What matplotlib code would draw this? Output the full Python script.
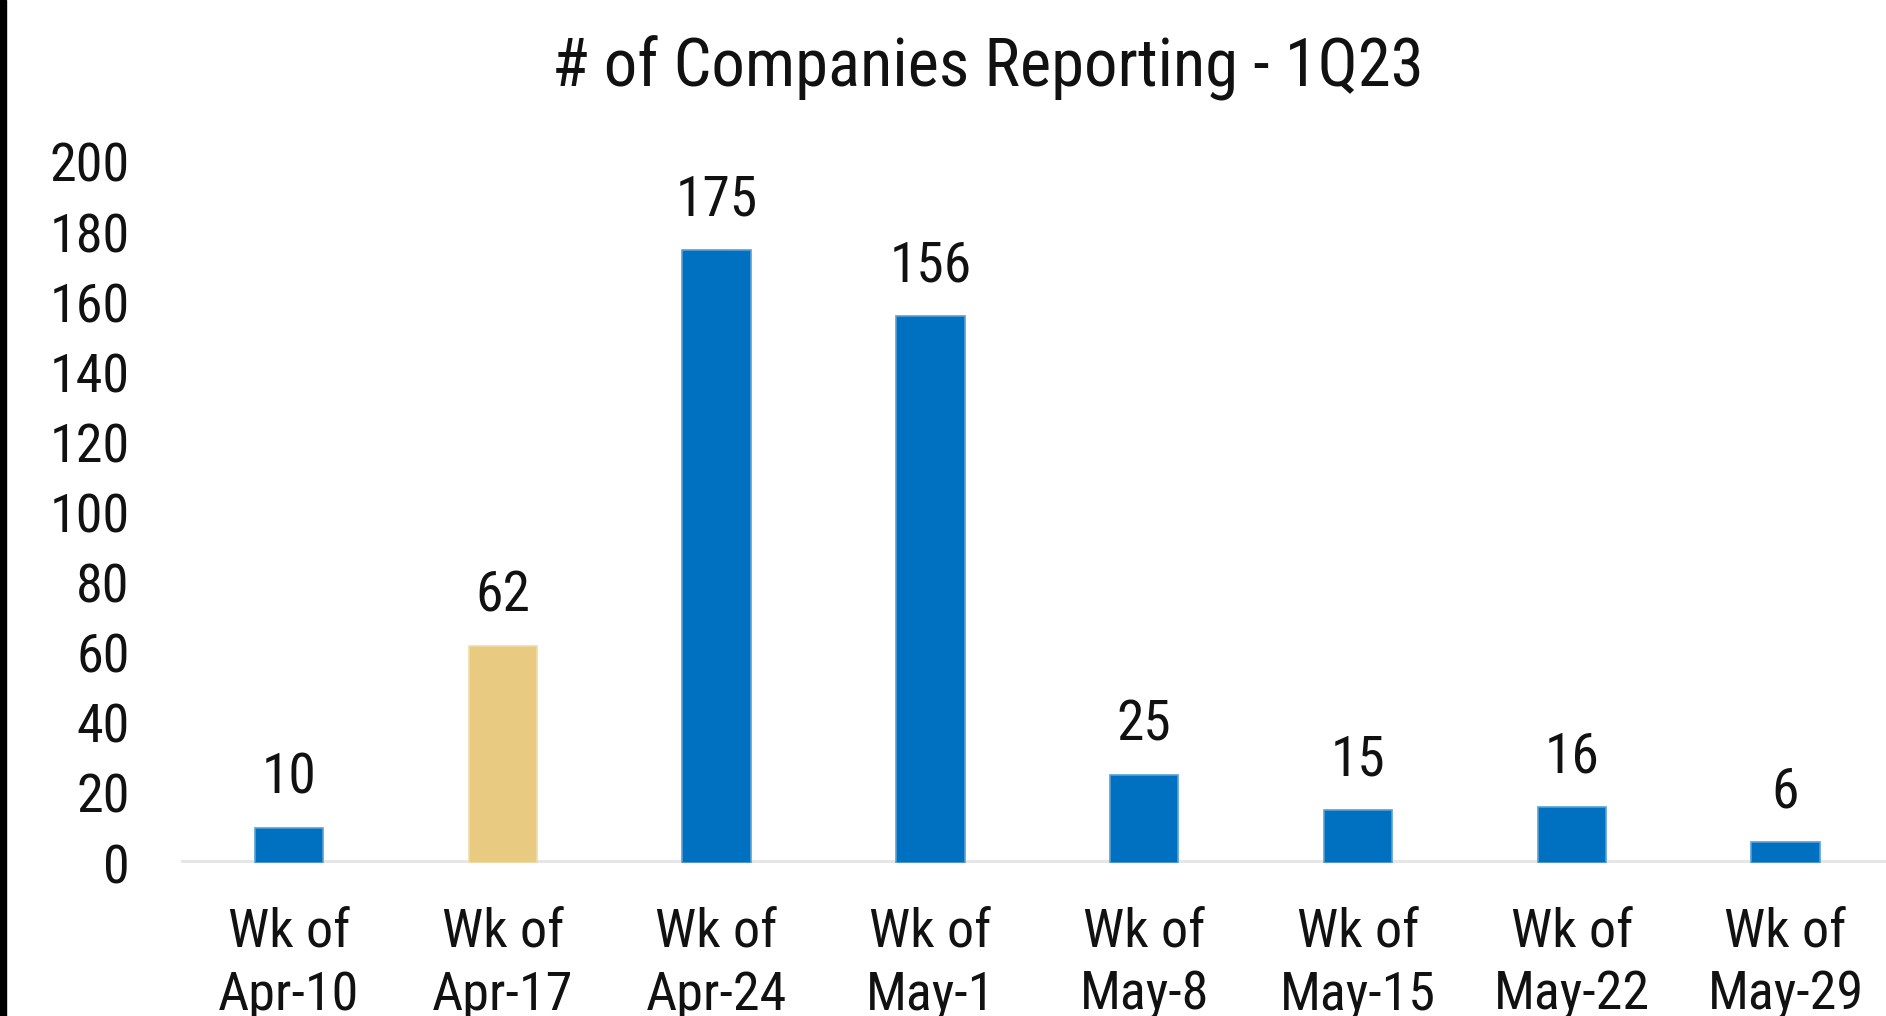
import matplotlib
matplotlib.use("Agg")
import matplotlib.pyplot as plt
from matplotlib import font_manager as fm
from matplotlib.patches import Rectangle

weeks = ['Wk of\nApr-10', 'Wk of\nApr-17', 'Wk of\nApr-24', 'Wk of\nMay-1',
         'Wk of\nMay-8', 'Wk of\nMay-15', 'Wk of\nMay-22', 'Wk of\nMay-29']
counts = [10, 62, 175, 156, 25, 15, 16, 6]
highlight = 'Wk of\nApr-17'
title = '# of Companies Reporting - 1Q23'

# narrow face if there is one, otherwise roboto
font = 'Roboto'
for name in ['Roboto Condensed', 'Liberation Sans Narrow']:
    try:
        fm.findfont(fm.FontProperties(family=name), fallback_to_default=False)
        font = name
        break
    except Exception:
        pass
plt.rcParams['font.family'] = [font, 'DejaVu Sans']

blue = '#0070C0'
gold = '#E8CB80'
ink = '#111111'
colors = [gold if w == highlight else blue for w in weeks]
edges = ['#F0DDAA' if w == highlight else '#5A9FD4' for w in weeks]

fig = plt.figure(figsize=(18.86, 10.16), dpi=100)
ax = fig.add_axes([181 / 1886, 1 - 863 / 1016, 1 - 181 / 1886, (863 - 162) / 1016])

x = range(len(weeks))
ax.axhline(0, color='#E6E6E6', lw=5, zorder=1)
ax.bar(x, counts, width=0.32, color=colors, edgecolor=edges, linewidth=1.2, zorder=2)

for i, v in enumerate(counts):
    ax.annotate(str(v), (i, v), xytext=(0, 36), textcoords='offset points',
                ha='center', va='center', fontsize=40, color=ink)

ax.set_xlim(-0.505, 7.47)
ax.set_ylim(0, 200)
ax.set_yticks(range(0, 201, 20))
ax.set_xticks(list(x))
ax.set_xticklabels(weeks, fontsize=39, color=ink, linespacing=1.28)
ax.tick_params(axis='y', labelsize=39, labelcolor=ink, length=0, pad=37)
ax.tick_params(axis='x', length=0, pad=32)
for s in ax.spines.values():
    s.set_visible(False)

fig.text(988 / 1886, 1 - 68 / 1016, title, ha='center', va='center',
         fontsize=48, color=ink)

# dark strip down the left edge of the original screenshot
fig.add_artist(Rectangle((0, 0), 6 / 1886, 1, transform=fig.transFigure,
                         color='black', zorder=10))

fig.savefig('out.png', dpi=100)
